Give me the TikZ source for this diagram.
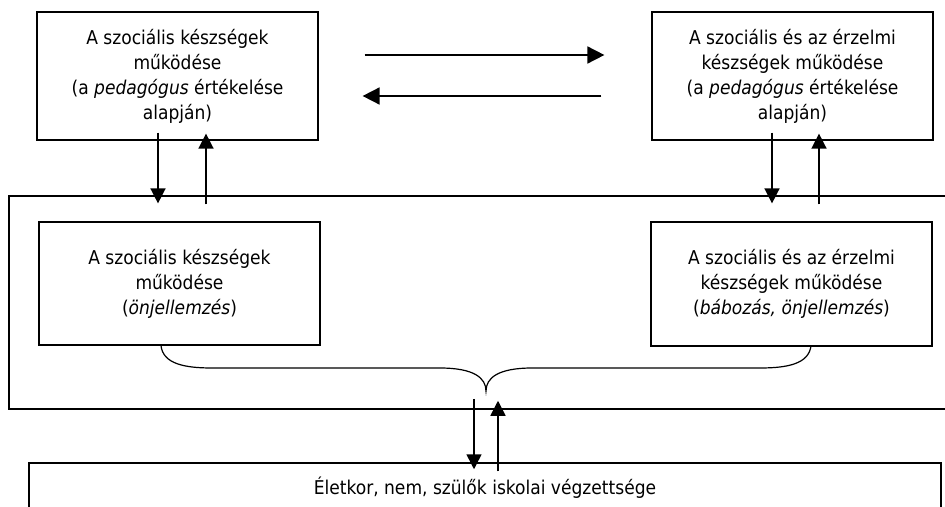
\documentclass[tikz,border=0pt]{standalone}
\usepackage{fontspec}
\setmainfont{DejaVu Sans Condensed}
\usepackage{tikz}
\usetikzlibrary{arrows.meta}

\begin{document}
\begin{tikzpicture}[x=1pt,y=1pt,
  box/.style={draw,line width=1.2pt,minimum width=281pt,align=center,inner sep=0pt,
    font={\fontsize{19}{25}\selectfont}},
  frame/.style={draw,line width=1.5pt,inner sep=0pt},
  arr/.style={line width=1.5pt,-{Triangle[length=15pt,width=15pt]}},
  harr/.style={line width=1.7pt,-{Triangle[length=17pt,width=17pt]}}]
\useasboundingbox (0,0) rectangle (945,-506);

\node[frame,minimum width=951pt,minimum height=213pt] (outer) at (484.5,-302.5) {};

\node[box,minimum height=128pt] (tl) at (177.5,-76)
  {A szociális készségek\\működése\\(a \textit{pedagógus} értékelése\\alapján)};
\node[box,minimum height=128pt] (tr) at (792.5,-76)
  {A szociális és az érzelmi\\készségek működése\\(a \textit{pedagógus} értékelése\\alapján)};

\node[box,minimum height=123pt] (il) at (179.5,-283.5)
  {A szociális készségek\\működése\\(\textit{önjellemzés})};
\node[box,minimum height=124pt] (ir) at (791.5,-284)
  {A szociális és az érzelmi\\készségek működése\\(\textit{bábozás, önjellemzés})};

\node[frame,minimum width=912pt,minimum height=50pt,font={\fontsize{19}{25}\selectfont}] (bot) at (485,-488)
  {Életkor, nem, szülők iskolai végzettsége};

\draw[harr] ([shift={(46,21)}]tl.east) -- ([shift={(-47,21)}]tr.west);
\draw[harr] ([shift={(-50,-20)}]tr.west) -- ([shift={(44,-20)}]tl.east);

\draw[arr] ([shift={(-19.5,8)}]tl.south) -- ([shift={(-21.5,18)}]il.north);
\draw[arr] ([shift={(26.5,17)}]il.north) -- ([shift={(28.5,7)}]tl.south);
\draw[arr] ([shift={(-20.5,8)}]tr.south) -- ([shift={(-19.5,18)}]ir.north);
\draw[arr] ([shift={(27.5,17)}]ir.north) -- ([shift={(26.5,7)}]tr.south);

\coordinate (bl) at ([xshift=-18.5pt]il.south);
\coordinate (br) at ([xshift=19.5pt,yshift=1pt]ir.south);
\coordinate (tip) at (486,-391);
\draw[line width=1.2pt] (bl) .. controls (163,-364) and (185,-368) .. (212,-368) -- (440,-368)
  .. controls (474,-368) and (486,-378) .. (tip)
  .. controls (486,-378) and (498,-368) .. (532,-368) -- (760,-368)
  .. controls (787,-368) and (809,-364) .. (br);

\draw[arr] ([shift={(-10.5,11)}]outer.south) -- ([shift={(-11,-7)}]bot.north);
\draw[arr] ([shift={(13,-9)}]bot.north) -- ([shift={(13.5,9)}]outer.south);

\end{tikzpicture}
\end{document}
